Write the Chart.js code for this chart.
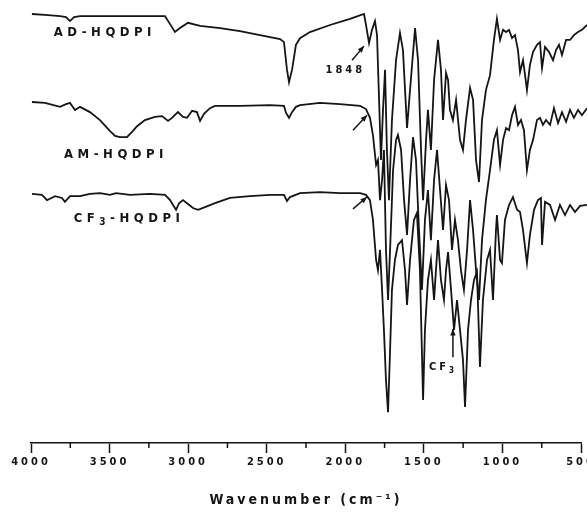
<!DOCTYPE html>
<html>
<head>
<meta charset="utf-8">
<script src="https://cdn.jsdelivr.net/npm/chart.js@4.4.0/dist/chart.umd.min.js"></script>
<style>
html, body { margin: 0; padding: 0; background: #fff; }
</style>
</head>
<body>
<canvas id="irChart" width="587" height="515"></canvas>
<script>
// Spectra (wavenumber in cm-1, transmittance in arbitrary units, stacked)
const adWavenumber = [3994,3911,3815,3777,3752,3726,3688,3434,3147,3115,3084,3052,3001,2924,2797,2670,2543,2415,2390,2371,2358,2339,2314,2288,2225,2097,1970,1881,1868,1849,1830,1811,1798,1785,1773,1760,1747,1735,1722,1703,1677,1652,1633,1607,1588,1556,1537,1518,1505,1486,1474,1455,1435,1410,1391,1378,1359,1346,1334,1315,1295,1270,1251,1232,1206,1187,1168,1149,1130,1105,1079,1054,1035,1015,996,977,958,939,920,901,888,869,856,844,825,805,780,761,748,729,704,678,659,640,621,595,570,545,519,494,462];
const adTransmittance = [97.5,97.3,97.0,96.8,95.9,96.8,97.0,97.0,97.0,95.2,93.4,94.3,95.5,94.8,94.3,93.6,92.7,91.8,91.1,84.8,82.0,84.8,90.5,92.0,93.4,95.0,96.4,97.5,95.0,90.9,93.9,95.9,92.7,78.0,64.3,75.7,84.8,66.6,55.2,73.4,87.0,93.2,89.3,71.6,80.2,94.3,87.0,66.6,55.2,68.9,75.7,66.6,82.5,91.6,84.8,73.4,84.1,82.5,75.7,73.4,78.0,68.9,66.6,73.4,80.7,78.0,64.3,59.3,73.4,80.2,83.6,91.6,96.4,91.6,93.9,93.4,93.9,92.0,92.7,89.3,84.3,87.0,83.6,80.2,85.9,88.9,90.5,91.1,85.2,90.0,88.9,87.0,89.3,90.5,88.2,91.6,91.6,92.7,93.4,93.9,95.0];

const amWavenumber = [3994,3911,3815,3777,3752,3720,3688,3625,3561,3497,3465,3434,3389,3357,3325,3275,3211,3166,3128,3103,3065,3033,3007,2975,2944,2924,2899,2861,2829,2670,2479,2390,2377,2358,2339,2314,2288,2161,2034,1906,1868,1843,1824,1804,1792,1779,1766,1754,1741,1728,1715,1696,1677,1665,1645,1626,1607,1588,1569,1550,1531,1512,1493,1474,1455,1435,1416,1397,1378,1359,1340,1321,1302,1283,1264,1245,1225,1206,1187,1168,1149,1130,1105,1079,1054,1035,1015,996,977,958,939,920,901,882,863,844,825,805,780,761,742,723,697,672,646,621,595,570,545,519,494,462];
const amTransmittance = [77.5,77.3,76.4,77.0,77.3,75.7,76.4,75.2,73.4,70.9,69.8,69.5,69.5,70.7,72.0,73.4,74.1,74.3,73.2,73.9,75.2,74.1,73.9,75.5,75.2,73.2,74.8,76.1,76.6,76.6,76.8,76.6,75.0,73.9,75.2,76.4,76.8,77.3,77.0,76.6,75.9,73.9,70.0,63.2,64.3,55.2,59.8,66.6,43.9,32.5,43.9,62.0,68.9,70.0,66.6,55.2,47.3,59.8,69.5,64.3,48.4,34.8,50.7,57.5,46.1,59.8,66.6,57.5,48.4,58.6,55.2,43.9,50.7,46.1,39.3,34.8,43.9,55.2,48.4,39.3,32.5,46.1,55.2,62.0,68.9,71.1,63.2,68.9,71.6,71.1,74.5,76.4,72.3,73.4,71.1,62.0,66.6,68.9,73.4,73.9,72.3,73.4,72.3,76.1,72.7,75.2,73.0,75.7,73.9,75.7,74.5,76.1];

const cfWavenumber = [3994,3930,3898,3879,3847,3803,3784,3752,3688,3625,3561,3497,3459,3370,3243,3147,3115,3096,3077,3058,3033,3001,2969,2937,2893,2829,2734,2606,2479,2390,2371,2352,2288,2161,2034,1906,1868,1843,1824,1804,1792,1779,1766,1754,1741,1728,1715,1703,1684,1665,1639,1620,1607,1588,1563,1544,1525,1505,1493,1474,1455,1435,1423,1410,1391,1372,1359,1346,1327,1308,1289,1270,1251,1238,1219,1200,1181,1162,1143,1124,1098,1079,1060,1041,1035,1015,1003,984,958,933,907,888,869,844,825,799,774,755,748,729,697,665,634,602,570,538,506,462];
const cfTransmittance = [56.6,56.4,55.2,55.5,56.1,55.7,54.8,56.1,56.1,56.6,56.8,56.4,56.8,56.4,56.6,56.4,55.2,54.1,53.0,54.5,55.2,54.3,53.4,53.0,53.6,54.5,55.7,56.1,56.4,56.4,55.0,55.9,56.8,57.0,56.8,56.8,56.4,55.2,50.7,41.6,39.3,43.9,34.8,25.7,14.3,7.0,21.1,34.8,41.6,45.0,46.1,39.3,31.4,41.6,50.7,52.3,39.3,9.8,25.7,37.0,41.6,32.5,39.3,46.1,37.0,32.5,39.3,43.4,34.8,25.7,32.5,25.7,18.9,8.2,25.7,32.5,37.0,38.9,17.3,32.5,41.6,43.9,32.5,48.4,51.8,41.6,40.9,50.7,54.1,55.9,53.0,52.5,48.4,40.9,47.3,53.0,55.2,55.7,45.0,54.8,54.1,50.7,54.1,51.8,54.1,52.5,53.9,54.1];

const xTickValues = [4000, 3500, 3000, 2500, 2000, 1500, 1000, 500];

// Text and arrows placed in data units
const curveLabels = [
    { parts: [['AD-HQDPI', false]], w: 3530, t: 93.2 },
    { parts: [['AM-HQDPI', false]], w: 3459, t: 65.5 },
    { parts: [['CF', false], ['3', true], ['-HQDPI', false]], w: 3376, t: 51.1 },
    { parts: [['1848', false]], w: 2000, t: 84.8, small: true },
    { parts: [['CF', false], ['3', true]], w: 1378, t: 17.3, small: true }
];
const arrows = [
    { from: [1957, 87.0], to: [1881, 90.2] },
    { from: [1951, 71.1], to: [1862, 74.5] },
    { from: [1951, 53.2], to: [1862, 55.9] },
    { from: [1315, 19.5], to: [1315, 25.9] }
];

const fontFamily = "'Liberation Sans Narrow', 'DejaVu Sans Condensed', 'Liberation Sans', sans-serif";
const ink = '#151515';

function makeSet(label, xs, ys) {
    return {
        label: label,
        data: xs.map((x, i) => ({ x: x, y: ys[i] })),
        borderColor: ink,
        borderWidth: 1.8,
        pointRadius: 0,
        tension: 0,
        clip: false
    };
}

const minorTicks = {
    id: 'minorTicks',
    afterDraw(chart) {
        const xs = chart.scales.x;
        const ctx = chart.ctx;
        ctx.save();
        ctx.strokeStyle = ink;
        ctx.lineWidth = 1.5;
        xs.ticks.forEach(t => {
            if (t.value % 500 === 0) return;
            const px = xs.getPixelForValue(t.value);
            ctx.beginPath();
            ctx.moveTo(px, xs.top);
            ctx.lineTo(px, xs.top + 5);
            ctx.stroke();
        });
        ctx.restore();
    }
};

const letterSpacing = {
    id: 'letterSpacing',
    beforeDraw(chart) {
        chart.ctx.letterSpacing = '3px';
    }
};

const annotations = {
    id: 'annotations',
    afterDatasetsDraw(chart) {
        const ctx = chart.ctx;
        const x = chart.scales.x, y = chart.scales.y;
        ctx.save();
        ctx.fillStyle = ink;
        ctx.strokeStyle = ink;
        ctx.textBaseline = 'middle';
        ctx.textAlign = 'left';

        curveLabels.forEach(l => {
            const size = l.small ? 11 : 13;
            const spacing = l.small ? '3px' : '4.5px';
            const fonts = l.parts.map(p => 'bold ' + (p[1] ? size - 3 : size) + 'px ' + fontFamily);
            ctx.letterSpacing = spacing;
            let total = 0;
            l.parts.forEach((p, i) => {
                ctx.font = fonts[i];
                total += ctx.measureText(p[0]).width;
            });
            let cx = x.getPixelForValue(l.w) - total / 2;
            const cy = y.getPixelForValue(l.t);
            l.parts.forEach((p, i) => {
                ctx.font = fonts[i];
                ctx.fillText(p[0], cx, p[1] ? cy + 4 : cy);
                cx += ctx.measureText(p[0]).width;
            });
        });

        ctx.lineWidth = 1.5;
        arrows.forEach(a => {
            const x0 = x.getPixelForValue(a.from[0]), y0 = y.getPixelForValue(a.from[1]);
            const x1 = x.getPixelForValue(a.to[0]), y1 = y.getPixelForValue(a.to[1]);
            const ang = Math.atan2(y1 - y0, x1 - x0);
            ctx.beginPath();
            ctx.moveTo(x0, y0);
            ctx.lineTo(x1, y1);
            ctx.stroke();
            ctx.beginPath();
            ctx.moveTo(x1, y1);
            ctx.lineTo(x1 - 7 * Math.cos(ang - 0.4), y1 - 7 * Math.sin(ang - 0.4));
            ctx.lineTo(x1 - 7 * Math.cos(ang + 0.4), y1 - 7 * Math.sin(ang + 0.4));
            ctx.closePath();
            ctx.fill();
        });
        ctx.restore();
    }
};

const ctx = document.getElementById('irChart').getContext('2d');
new Chart(ctx, {
    type: 'line',
    data: {
        datasets: [
            makeSet('AD-HQDPI', adWavenumber, adTransmittance),
            makeSet('AM-HQDPI', amWavenumber, amTransmittance),
            makeSet('CF3-HQDPI', cfWavenumber, cfTransmittance)
        ]
    },
    options: {
        responsive: false,
        animation: false,
        layout: { padding: { left: 31, right: 6, top: 3, bottom: 0 } },
        plugins: {
            legend: { display: false },
            tooltip: { enabled: false }
        },
        scales: {
            x: {
                type: 'linear',
                reverse: true,
                min: 500,
                max: 4000,
                afterFit(scale) {
                    scale.height = 72;
                    scale.paddingLeft = 0;
                    scale.paddingRight = 0;
                },
                afterBuildTicks(scale) {
                    const vals = [];
                    for (let v = 500; v <= 4000; v += 250) vals.push({ value: v });
                    scale.ticks = vals;
                },
                border: { display: true, color: ink, width: 1.6 },
                grid: {
                    drawOnChartArea: false,
                    drawTicks: true,
                    tickLength: 10,
                    tickWidth: 1.5,
                    tickColor: c => (c.tick && xTickValues.includes(c.tick.value)) ? ink : 'rgba(0,0,0,0)'
                },
                ticks: {
                    autoSkip: false,
                    maxRotation: 0,
                    padding: 3,
                    color: ink,
                    font: { family: fontFamily, size: 11, weight: 'bold' },
                    callback: v => xTickValues.includes(v) ? String(v) : ''
                },
                title: {
                    display: true,
                    text: 'Wavenumber (cm\u207B\u00B9)',
                    color: ink,
                    font: { family: fontFamily, size: 14, weight: 'bold' },
                    padding: { top: 0, bottom: 6 }
                }
            },
            y: {
                display: false,
                min: 0,
                max: 100
            }
        }
    },
    plugins: [letterSpacing, minorTicks, annotations]
});
</script>
</body>
</html>
